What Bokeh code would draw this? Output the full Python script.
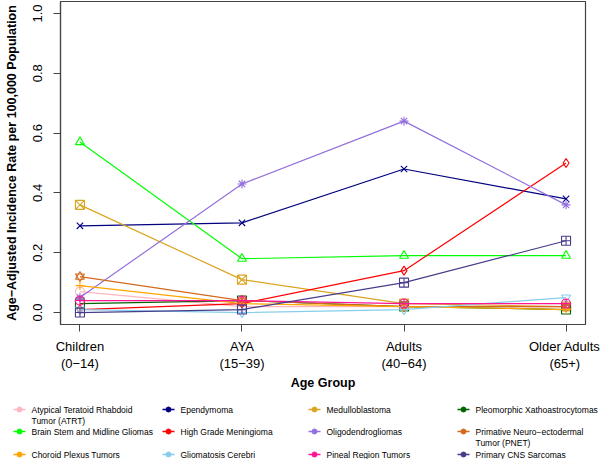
from bokeh.plotting import figure
from bokeh.models import Range1d, FixedTicker, PrintfTickFormatter
from bokeh.core.properties import value
from bokeh.embed import file_html
from bokeh.resources import INLINE

FONT = "Liberation Sans"

# ---- data ----
age_groups = ["Children\n(0\u221214)", "AYA\n(15\u221239)", "Adults\n(40\u221264)", "Older Adults\n(65+)"]
x_pos = [1, 2, 3, 4]

names = [
    "Atypical Teratoid Rhabdoid\nTumor (ATRT)", "Ependymoma", "Medulloblastoma", "Pleomorphic Xathoastrocytomas",
    "Brain Stem and Midline Gliomas", "High Grade Meningioma", "Oligodendrogliomas", "Primative Neuro\u2212ectodermal\nTumor (PNET)",
    "Choroid Plexus Tumors", "Gliomatosis Cerebri", "Pineal Region Tumors", "Primary CNS Sarcomas",
]
colors = [
    "#FFB6C1", "#000080", "#DAA520", "#006400",
    "#00FF00", "#FF0000", "#9370DB", "#D2691E",
    "#FFA500", "#87CEEB", "#FF1493", "#483D8B",
]
markers = [
    ["circle"], ["x"], ["square_x"], ["square"],
    ["triangle"], ["diamond"], ["asterisk"], ["triangle", "inverted_triangle"],
    ["cross"], ["inverted_triangle"], ["circle_cross"], ["square_cross"],
]
atrt = [0.07, 0.02, 0.02, 0.02]
ependymoma = [0.29, 0.30, 0.48, 0.38]
medulloblastoma = [0.36, 0.11, 0.03, 0.02]
pleomorphic = [0.03, 0.04, 0.02, 0.01]
brain_stem = [0.57, 0.18, 0.19, 0.19]
hg_meningioma = [0.01, 0.03, 0.14, 0.50]
oligodendro = [0.05, 0.43, 0.64, 0.36]
pnet = [0.12, 0.04, 0.02, 0.02]
choroid = [0.09, 0.03, 0.02, 0.01]
gliomatosis = [0.01, 0.00, 0.01, 0.05]
pineal = [0.04, 0.04, 0.03, 0.03]
primary_cns = [0.00, 0.01, 0.10, 0.24]
series = [atrt, ependymoma, medulloblastoma, pleomorphic,
          brain_stem, hg_meningioma, oligodendro, pnet,
          choroid, gliomatosis, pineal, primary_cns]

y_ticks = [0.0, 0.2, 0.4, 0.6, 0.8, 1.0]

# ---- main plot ----
p = figure(frame_width=525, frame_height=323, x_range=Range1d(0.88, 4.12), y_range=Range1d(-0.04, 1.04),
           output_backend="svg", toolbar_location=None,
           min_border_left=60, min_border_right=15, min_border_top=1, min_border_bottom=72)
p.grid.visible = False
p.outline_line_color = "#444444"
p.outline_line_width = 1.2
p.background_fill_color = "white"
p.border_fill_color = "white"

for vals, col, mk in zip(series, colors, markers):
    p.line(x_pos, vals, line_color=col, line_width=1.2)
    for m in mk:
        p.scatter(x_pos, vals, marker=m, size=9, line_color=col, fill_color=None, line_width=1.1)

p.xaxis.ticker = FixedTicker(ticks=x_pos)
p.xaxis.major_label_overrides = {x: lab for x, lab in zip(x_pos, age_groups)}
p.yaxis.ticker = FixedTicker(ticks=y_ticks)
p.yaxis.formatter = PrintfTickFormatter(format="%.1f")
p.yaxis.major_label_orientation = "vertical"
for ax in (p.xaxis[0], p.yaxis[0]):
    ax.axis_line_color = "#444444"
    ax.axis_line_width = 1.2
    ax.major_tick_line_color = "#444444"
    ax.major_tick_out = 7
    ax.major_tick_in = 0
    ax.minor_tick_line_color = None
    ax.major_label_text_font = FONT
    ax.major_label_text_font_size = "13px"
    ax.major_label_text_color = "black"
    ax.major_label_standoff = 7
    ax.axis_label_text_font = FONT
    ax.axis_label_text_font_size = "12.5px"
    ax.axis_label_text_font_style = "bold"
    ax.axis_label_text_color = "black"
p.yaxis.major_label_standoff = 11
p.xaxis.axis_label = "Age Group"
p.yaxis.axis_label = "Age\u2212Adjusted Incidence Rate per 100,000 Population"
p.xaxis.axis_label_standoff = 2
p.yaxis.axis_label_standoff = 12
p.xaxis.major_label_text_line_height = 1.15

# ---- legend figure ----
L_W, L_H = 600, 63
lg = figure(frame_width=L_W, frame_height=L_H, x_range=Range1d(0, L_W), y_range=Range1d(L_H, 0),
            output_backend="svg", toolbar_location=None,
            min_border=0, min_border_left=0, min_border_right=0, min_border_top=0, min_border_bottom=0)
lg.axis.visible = False
lg.grid.visible = False
lg.outline_line_color = None

col_x = [13, 162, 308, 457]
row_y = [13, 35, 58]
txt_x, txt_y, txt = [], [], []
for i, (name, col, mk) in enumerate(zip(names, colors, markers)):
    cx = col_x[i % 4]
    ry = row_y[i // 4]
    lg.segment(x0=cx, y0=ry, x1=cx + 12, y1=ry, line_color=col, line_width=1.6)
    lg.scatter([cx + 6], [ry], marker="circle", size=5, fill_color=col, line_color=col)
    for j, line in enumerate(name.split("\n")):
        txt_x.append(cx + 18)
        txt_y.append(ry + 11 * j)
        txt.append(line)
lg.text(x=txt_x, y=txt_y, text=txt, text_font=value(FONT), text_font_size="8.5px",
        text_baseline="middle", text_align="left", text_color="black")

open("out.html", "w").write(file_html([p, lg], INLINE))
